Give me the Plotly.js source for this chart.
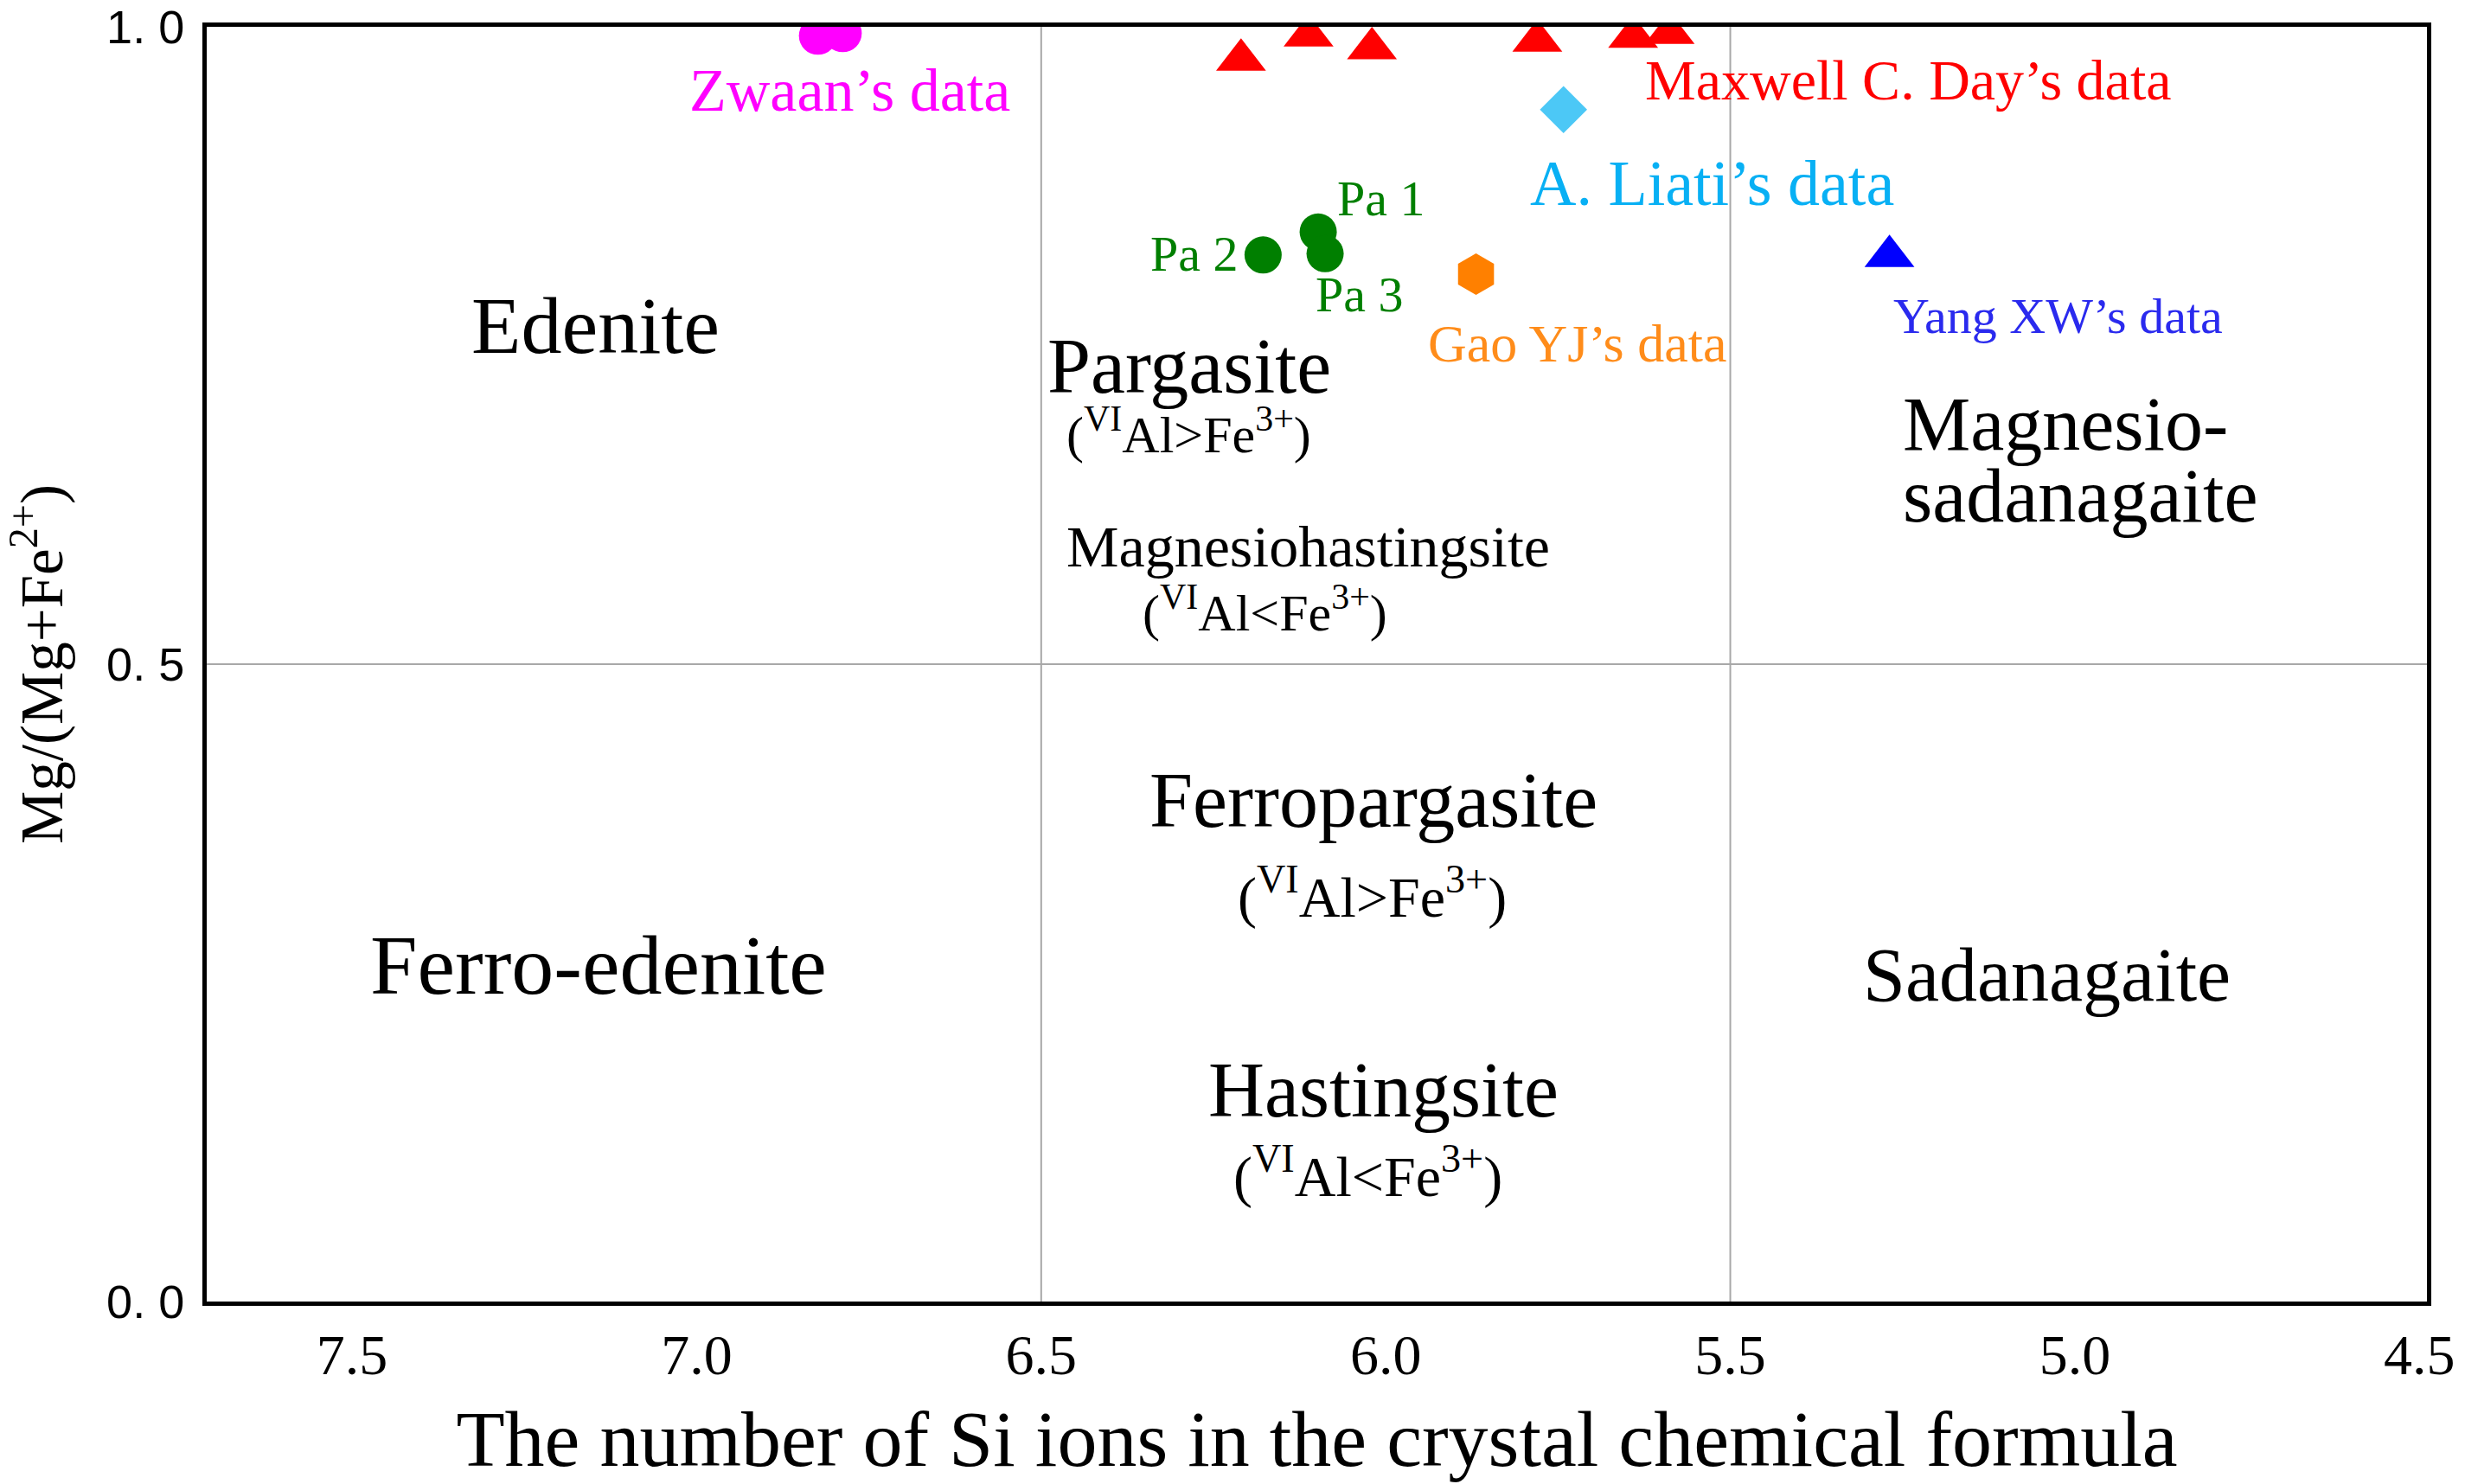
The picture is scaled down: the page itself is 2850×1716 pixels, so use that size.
<!DOCTYPE html>
<html>
<head>
<meta charset="utf-8">
<script src="https://cdn.plot.ly/plotly-3.0.1.min.js"></script>
<style>
  html, body { margin: 0; padding: 0; background: #fff; }
  #chart { width: 2850px; height: 1716px; }
</style>
</head>
<body>
<div id="chart"></div>
<script>
// Si ions (x) and Mg/(Mg+Fe2+) (y)
const zwaanSi = [6.824, 6.788];
const zwaanMg = [0.993, 0.995];

const daySi = [6.210, 6.112, 6.020, 5.780, 5.641, 5.588];
const dayMg = [0.974, 0.993, 0.983, 0.989, 0.992, 0.995];

const liatiSi = [5.742];
const liatiMg = [0.935];

const paSi = [6.098, 6.178, 6.088];
const paMg = [0.839, 0.821, 0.822];

const gaoSi = [5.869];
const gaoMg = [0.806];

const yangSi = [5.269];
const yangMg = [0.820];

// field boundaries
const siBounds = [6.5, 5.5];
const mgBounds = [0.5];

const xTicks = [7.5, 7.0, 6.5, 6.0, 5.5, 5.0, 4.5];
const xTickText = ['7.5', '7.0', '6.5', '6.0', '5.5', '5.0', '4.5'];
const yTicks = [0, 0.5, 1];
const yTickText = ['0. 0', '0. 5', '1. 0'];

const SERIF = 'Liberation Serif, Times New Roman, serif';

function pts(x, y, name, symbol, color, size) {
  return {
    x: x, y: y, name: name,
    type: 'scatter', mode: 'markers',
    marker: { symbol: symbol, color: color, size: size, line: { width: 0 } },
    cliponaxis: true,
    hoverinfo: 'x+y+name'
  };
}

const traces = [
  pts(zwaanSi, zwaanMg, "Zwaan's data", 'circle', '#ff00ff', 44),
  pts(daySi, dayMg, "Maxwell C. Day's data", 'triangle-up', '#ff0000', 50),
  pts(liatiSi, liatiMg, "A. Liati's data", 'diamond', '#4cc8f6', 42),
  pts(paSi, paMg, 'Pa', 'circle', '#007f00', 43),
  pts(gaoSi, gaoMg, "Gao YJ's data", 'hexagon', '#ff8000', 48),
  pts(yangSi, yangMg, "Yang XW's data", 'triangle-up', '#0000ff', 50)
];

// text labels: [text, x, y, colour, size]
const labels = [
  ['Zwaan’s data', 6.778, 0.950, '#ff00ff', 70],
  ['Maxwell C. Day’s data', 5.241, 0.958, '#ff0000', 66],
  ['A. Liati’s data', 5.526, 0.877, '#08b0f4', 74],
  ['Pa 1', 6.006, 0.865, '#007f00', 58],
  ['Pa 2', 6.278, 0.822, '#007f00', 58],
  ['Pa 3', 6.038, 0.790, '#007f00', 58],
  ['Gao YJ’s data', 5.721, 0.752, '#ff8c1a', 62],
  ['Yang XW’s data', 5.024, 0.773, '#2a2aee', 58],
  ['Edenite', 7.147, 0.766, '#000', 94],
  ['Pargasite', 6.285, 0.734, '#000', 90],
  ['(<sup>VI</sup>Al&gt;Fe<sup>3+</sup>)', 6.286, 0.683, '#000', 60],
  ['Magnesiohastingsite', 6.112, 0.592, '#000', 68],
  ['(<sup>VI</sup>Al&lt;Fe<sup>3+</sup>)', 6.175, 0.543, '#000', 60],
  ['Ferropargasite', 6.018, 0.393, '#000', 90],
  ['(<sup>VI</sup>Al&gt;Fe<sup>3+</sup>)', 6.020, 0.320, '#000', 66],
  ['Ferro-edenite', 7.142, 0.264, '#000', 98],
  ['Sadanagaite', 5.041, 0.256, '#000', 88],
  ['Hastingsite', 6.003, 0.166, '#000', 90],
  ['(<sup>VI</sup>Al&lt;Fe<sup>3+</sup>)', 6.026, 0.101, '#000', 66]
];

const annotations = labels.map(l => ({
  text: l[0], x: l[1], y: l[2], xref: 'x', yref: 'y',
  showarrow: false, xanchor: 'center', yanchor: 'middle',
  font: { family: SERIF, size: l[4], color: l[3] }
}));

// Magnesio-sadanagaite is left aligned on two lines
annotations.push(
  { text: 'Magnesio-', x: 5.252, y: 0.688, xref: 'x', yref: 'y', showarrow: false,
    xanchor: 'left', yanchor: 'middle', font: { family: SERIF, size: 88, color: '#000' } },
  { text: 'sadanagaite', x: 5.252, y: 0.632, xref: 'x', yref: 'y', showarrow: false,
    xanchor: 'left', yanchor: 'middle', font: { family: SERIF, size: 88, color: '#000' } }
);

const shapes = [];
siBounds.forEach(v => shapes.push({
  type: 'line', xref: 'x', yref: 'paper', x0: v, x1: v, y0: 0, y1: 1,
  line: { color: '#a8a8a8', width: 2 }, layer: 'below'
}));
mgBounds.forEach(v => shapes.push({
  type: 'line', xref: 'paper', yref: 'y', x0: 0, x1: 1, y0: v, y1: v,
  line: { color: '#a8a8a8', width: 2 }, layer: 'below'
}));

const layout = {
  width: 2850,
  height: 1716,
  margin: { l: 239, r: 44, t: 31, b: 211 },
  paper_bgcolor: '#ffffff',
  plot_bgcolor: '#ffffff',
  showlegend: false,
  xaxis: {
    range: [7.711, 4.489],
    tickmode: 'array', tickvals: xTicks, ticktext: xTickText,
    showgrid: false, zeroline: false,
    showline: true, mirror: true, linecolor: '#000', linewidth: 5,
    ticks: '', ticklen: 0, ticklabelstandoff: 0,
    tickfont: { family: SERIF, size: 66, color: '#000' },
    title: {
      text: 'The number of Si ions in the crystal chemical formula',
      font: { family: SERIF, size: 92, color: '#000' },
      standoff: 30
    }
  },
  yaxis: {
    range: [0, 1],
    tickmode: 'array', tickvals: yTicks, ticktext: yTickText,
    showgrid: false, zeroline: false,
    showline: true, mirror: true, linecolor: '#000', linewidth: 5,
    ticks: '', ticklen: 0, ticklabelstandoff: 10,
    tickfont: { family: 'Liberation Sans, Arial, sans-serif', size: 54, color: '#000' },
    title: {
      text: 'Mg/(Mg+Fe<sup>2+</sup>)',
      font: { family: SERIF, size: 69, color: '#000' },
      standoff: 36
    }
  },
  shapes: shapes,
  annotations: annotations
};

Plotly.newPlot('chart', traces, layout, { displayModeBar: false, staticPlot: true });
</script>
</body>
</html>
